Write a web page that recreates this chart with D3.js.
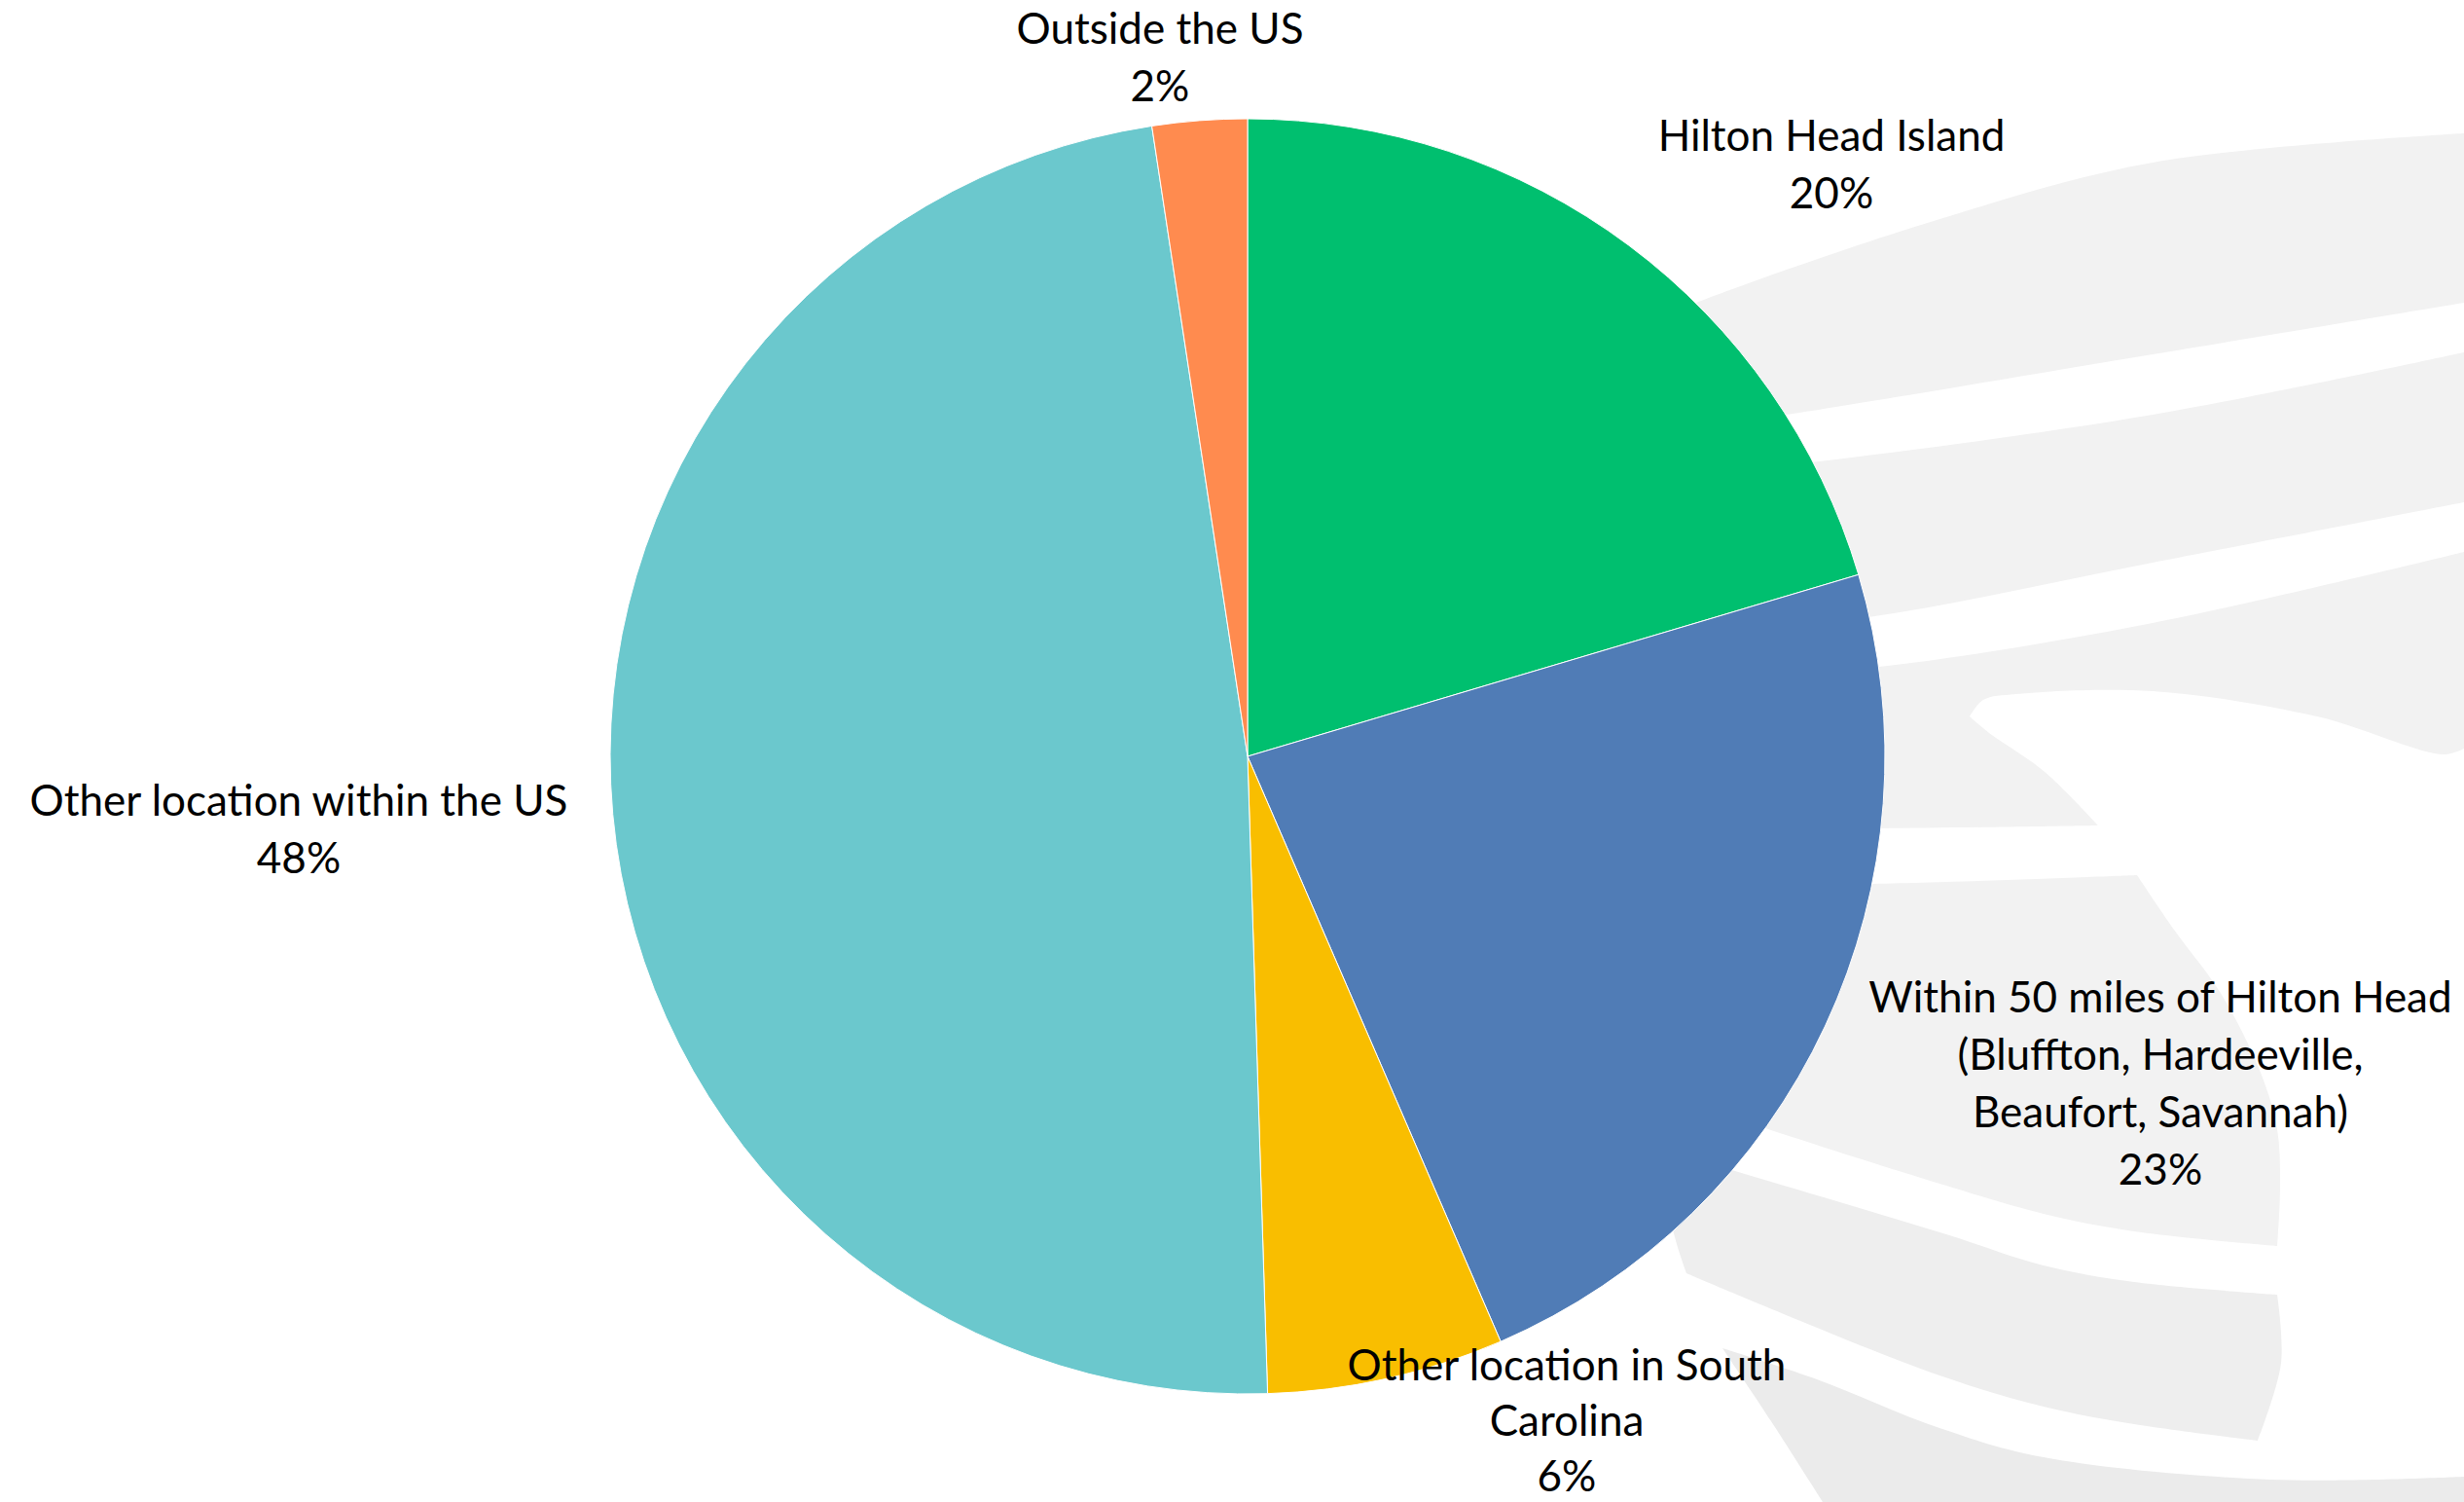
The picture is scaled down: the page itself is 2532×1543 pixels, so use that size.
<!DOCTYPE html>
<html>
<head>
<meta charset="utf-8">
<title>Where respondents live</title>
<script src="https://cdn.jsdelivr.net/npm/d3@7"></script>
<style>
  html, body { margin: 0; padding: 0; background: #ffffff; }
  svg { display: block; }
</style>
</head>
<body>
<svg id="chart" width="2532" height="1543"></svg>
<script>
// ---- data ----
const categories = [
  "Hilton Head Island",
  "Within 50 miles of Hilton Head (Bluffton, Hardeeville, Beaufort, Savannah)",
  "Other location in South Carolina",
  "Other location within the US",
  "Outside the US"
];
const labelLines = [
  ["Hilton Head Island"],
  ["Within 50 miles of Hilton Head", "(Bluffton, Hardeeville,", "Beaufort, Savannah)"],
  ["Other location in South", "Carolina"],
  ["Other location within the US"],
  ["Outside the US"]
];
const shares = [20.4, 23.1, 6.0, 48.1, 2.4]; // percent of respondents

// ---- layout & style ----
const W = 2532, H = 1543;
const cx = 1282, cy = 777, R = 655;
const palette = ["#00BF6F", "#507CB6", "#F9BE00", "#6BC8CD", "#FF8B4F"];
const fontFamily = "Lato, 'Open Sans', sans-serif";
const fontSize = 44;
// label blocks: centre x, baseline of the first line, line step
const labelAnchor = {
  "Hilton Head Island": [1882, 155, 59],
  "Within 50 miles of Hilton Head (Bluffton, Hardeeville, Beaufort, Savannah)": [2220, 1040, 59],
  "Other location in South Carolina": [1610, 1418, 57],
  "Other location within the US": [307, 838, 59],
  "Outside the US": [1192, 45, 59]
};

const svg = d3.select("#chart");

// ---- faint background emblem (curved bands) ----
const edge = d3.line().curve(d3.curveCatmullRom.alpha(0.5));
function shapePath(edges) {
  let d = "";
  edges.forEach((pts, i) => {
    const seg = edge(pts);
    d += i === 0 ? seg : "L" + seg.slice(1);
  });
  return d + "Z";
}
const emblem = [
  { fill: "#f2f2f2", edges: [
    [[1700, 330], [1743, 311], [1987, 227], [2212, 167], [2532, 137]],
    [[2532, 311], [2212, 364], [1836, 426], [1700, 445]]
  ]},
  { fill: "#f2f2f2", edges: [
    [[1700, 490], [1869, 474], [2212, 426], [2532, 362]],
    [[2532, 516], [2212, 578], [1920, 634], [1700, 655]]
  ]},
  { fill: "#f2f2f2", edges: [
    [[1700, 700], [1931, 685], [2212, 640], [2532, 567]],
    [[2532, 769], [2511, 775], [2381, 736], [2212, 710], [2072, 713], [2038, 719], [2024, 736]],
    [[2024, 736], [2044, 753], [2100, 792], [2156, 848]],
    [[2156, 848], [1931, 851], [1700, 851]]
  ]},
  { fill: "#f2f2f2", edges: [
    [[1700, 906], [1912, 908], [2196, 899]],
    [[2196, 899], [2234, 955], [2283, 1022], [2323, 1102], [2340, 1160], [2343, 1220], [2340, 1280]],
    [[2340, 1280], [2193, 1265], [2100, 1247], [2000, 1218], [1817, 1160], [1700, 1120]]
  ]},
  { fill: "#eeeeee", edges: [
    [[1705, 1180], [1783, 1203], [2000, 1268], [2100, 1300], [2193, 1317], [2340, 1330]],
    [[2340, 1330], [2344, 1400], [2320, 1480]],
    [[2320, 1480], [2193, 1463], [2100, 1445], [1993, 1413], [1833, 1350], [1733, 1308]],
    [[1733, 1308], [1720, 1267], [1705, 1180]]
  ]},
  { fill: "#ebebeb", edges: [
    [[1770, 1385], [1867, 1417], [1993, 1467], [2100, 1497], [2333, 1520], [2532, 1517]],
    [[2532, 1517], [2532, 1543], [1873, 1543]],
    [[1873, 1543], [1820, 1460], [1770, 1385]]
  ]}
];
svg.append("g")
  .attr("class", "emblem")
  .selectAll("path")
  .data(emblem)
  .join("path")
  .attr("d", d => shapePath(d.edges))
  .attr("fill", d => d.fill);

// ---- pie ----
const data = categories.map((c, i) => ({ category: c, value: shares[i], lines: labelLines[i] }));
const color = d3.scaleOrdinal().domain(categories).range(palette);
const pie = d3.pie().sort(null).value(d => d.value).startAngle(0).endAngle(2 * Math.PI);
const arc = d3.arc().innerRadius(0).outerRadius(R);
const arcs = pie(data);

const g = svg.append("g").attr("transform", `translate(${cx},${cy})`);
g.selectAll("path.slice")
  .data(arcs)
  .join("path")
  .attr("class", "slice")
  .attr("d", arc)
  .attr("fill", d => color(d.data.category))
  .attr("stroke", "#ffffff")
  .attr("stroke-width", 1)
  .attr("stroke-linejoin", "round");

// ---- data labels: category name + rounded percent ----
const total = d3.sum(shares);
const pct = v => Math.round(v / total * 100) + "%";
const labels = svg.append("g").attr("class", "labels")
  .attr("font-family", fontFamily)
  .attr("font-size", fontSize)
  .attr("fill", "#000000")
  .attr("text-anchor", "middle");

arcs.forEach(a => {
  const [x, y, step] = labelAnchor[a.data.category];
  const text = labels.append("text").attr("x", x).attr("y", y);
  const lines = a.data.lines.concat([pct(a.data.value)]);
  lines.forEach((ln, i) => {
    text.append("tspan")
      .attr("x", x)
      .attr("y", y + i * step)
      .text(ln);
  });
});
</script>
</body>
</html>
